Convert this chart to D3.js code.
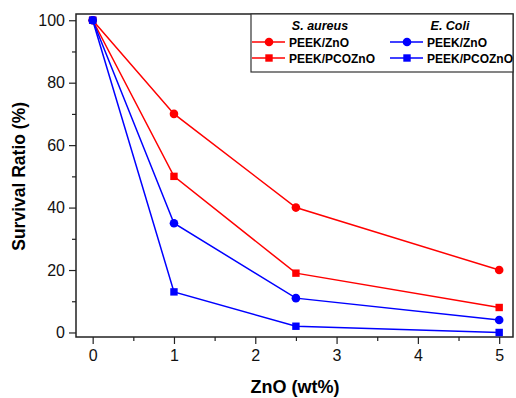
<!DOCTYPE html>
<html>
<head>
<meta charset="utf-8">
<script src="https://cdn.jsdelivr.net/npm/d3@7"></script>
<style>
  body { margin: 0; background: #fff; }
  svg { font-family: Arial, "Liberation Sans", sans-serif; }
</style>
</head>
<body>
<svg class="chart"></svg>
<script>
var loadings = [0, 1, 2.5, 5];
var saZnO = [100, 70, 40, 20];
var saPCO = [100, 50, 19, 8];
var ecZnO = [100, 35, 11, 4];
var ecPCO = [100, 13, 2, 0];
var xTicks = [0, 1, 2, 3, 4, 5];
var yTicks = [0, 20, 40, 60, 80, 100];

var series = [
  { name: 'PEEK/ZnO', values: saZnO, color: '#ff0000', shape: 'circle' },
  { name: 'PEEK/PCOZnO', values: saPCO, color: '#ff0000', shape: 'square' },
  { name: 'PEEK/ZnO', values: ecZnO, color: '#0000ff', shape: 'circle' },
  { name: 'PEEK/PCOZnO', values: ecPCO, color: '#0000ff', shape: 'square' }
];

var margin = { top: 14, right: 3, bottom: 61, left: 76 };
var W = 516, H = 398;
var width = W - margin.left - margin.right;
var height = H - margin.top - margin.bottom;

var x = d3.scaleLinear().domain([-0.205, 5.17]).range([0, width]);
var y = d3.scaleLinear().domain([-1.45, 102]).range([height, 0]);

var svg = d3.select('.chart').attr('width', W).attr('height', H);
var chart = svg.append('g')
  .attr('transform', 'translate(' + margin.left + ',' + margin.top + ')');

// minor ticks
chart.append('g')
  .attr('class', 'x minor')
  .attr('transform', 'translate(0,' + height + ')')
  .call(d3.axisBottom(x).tickValues([0.5, 1.5, 2.5, 3.5, 4.5]).tickSize(4).tickFormat(''));
chart.append('g')
  .attr('class', 'y minor')
  .call(d3.axisLeft(y).tickValues([10, 30, 50, 70, 90]).tickSize(4).tickFormat(''));

var xAxis = chart.append('g')
  .attr('class', 'x axis')
  .attr('transform', 'translate(0,' + height + ')')
  .call(d3.axisBottom(x).tickValues(xTicks).tickFormat(d3.format('d')).tickSize(7).tickPadding(6));
var yAxis = chart.append('g')
  .attr('class', 'y axis')
  .call(d3.axisLeft(y).tickValues(yTicks).tickSize(7).tickPadding(4));

chart.selectAll('.domain').remove();
chart.selectAll('.tick line').attr('stroke', '#222').attr('stroke-width', 1.2);
chart.selectAll('.axis text').attr('font-size', 16).attr('fill', '#111')
  .attr('font-family', 'Arial, "Liberation Sans", sans-serif');

// frame
chart.append('rect')
  .attr('width', width).attr('height', height)
  .attr('fill', 'none').attr('stroke', '#222').attr('stroke-width', 1.5);

var line = d3.line()
  .x((d, i) => x(loadings[i]))
  .y(d => y(d));

function marker(sel, shape, color) {
  if (shape === 'circle') {
    sel.append('circle').attr('r', 4.3).attr('fill', color);
  } else {
    sel.append('rect').attr('x', -3.7).attr('y', -3.7)
      .attr('width', 7.4).attr('height', 7.4).attr('fill', color);
  }
}

series.forEach(s => {
  chart.append('path')
    .datum(s.values)
    .attr('d', line)
    .attr('fill', 'none')
    .attr('stroke', s.color)
    .attr('stroke-width', 1.5);
  s.values.forEach((v, i) => {
    var g = chart.append('g')
      .attr('transform', 'translate(' + x(loadings[i]) + ',' + y(v) + ')');
    marker(g, s.shape, s.color);
  });
});

// legend
var lg = svg.append('g').attr('class', 'legend');
lg.append('rect')
  .attr('x', 251).attr('y', 14).attr('width', 262).attr('height', 58)
  .attr('fill', '#fff').attr('stroke', '#333').attr('stroke-width', 1.2);
var headers = [['S. aureus', 320], ['E. Coli', 450]];
headers.forEach(h => {
  lg.append('text').attr('x', h[1]).attr('y', 30)
    .attr('text-anchor', 'middle').attr('font-size', 12.5)
    .attr('font-weight', 'bold').attr('font-style', 'italic')
    .text(h[0]);
});
series.forEach((s, i) => {
  var col = i < 2 ? 0 : 1;
  var row = i % 2;
  var x0 = col === 0 ? 252 : 390;
  var yy = 42 + row * 16;
  lg.append('line').attr('x1', x0).attr('x2', x0 + 33)
    .attr('y1', yy).attr('y2', yy)
    .attr('stroke', s.color).attr('stroke-width', 1.5);
  var g = lg.append('g').attr('transform', 'translate(' + (x0 + 17) + ',' + yy + ')');
  marker(g, s.shape, s.color);
  lg.append('text').attr('x', x0 + 37).attr('y', yy + 4.5)
    .attr('font-size', 12).attr('font-weight', 'bold')
    .text(s.name);
});

// axis titles
svg.append('text')
  .attr('x', 295).attr('y', 393)
  .attr('text-anchor', 'middle').attr('font-size', 18).attr('font-weight', 'bold')
  .text('ZnO (wt%)');
svg.append('text')
  .attr('transform', 'translate(25,' + (margin.top + y(50)) + ') rotate(-90)')
  .attr('text-anchor', 'middle').attr('font-size', 17.5).attr('font-weight', 'bold')
  .text('Survival Ratio (%)');
</script>
</body>
</html>
